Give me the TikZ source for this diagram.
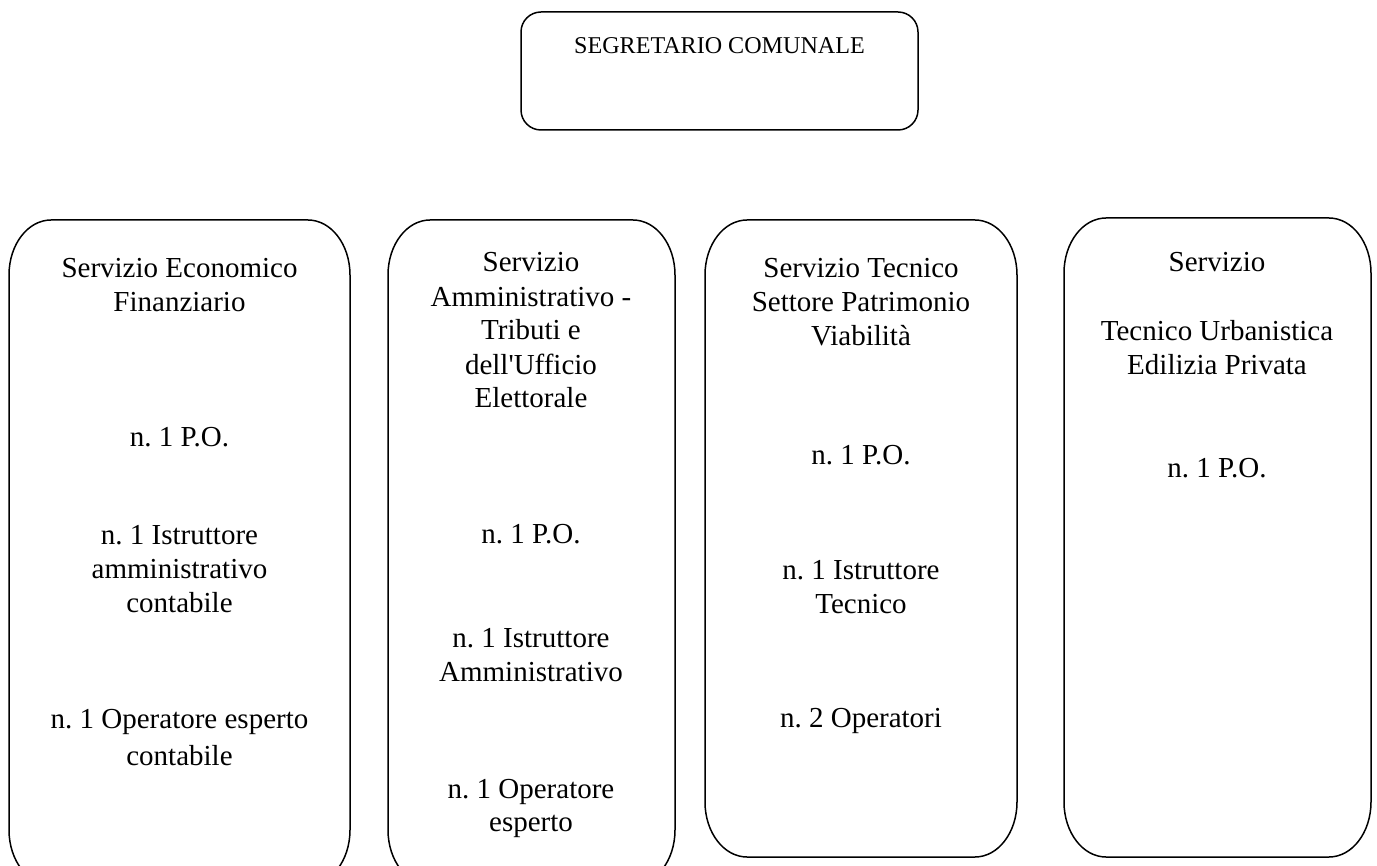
\documentclass[tikz,border=0pt]{standalone}
\usepackage{fontspec}
\setmainfont{Liberation Serif}[Ligatures=TeXOff]
\frenchspacing
\newcommand\rrbox[4]{%
  \draw[box] (#1+42,#2) -- (#3-42,#2)
    arc[start angle=-90,end angle=0,x radius=42,y radius=55] -- (#3,#4-55)
    arc[start angle=0,end angle=90,x radius=42,y radius=55] -- (#1+42,#4)
    arc[start angle=90,end angle=180,x radius=42,y radius=55] -- (#1,#2+55)
    arc[start angle=180,end angle=270,x radius=42,y radius=55] -- cycle;}
\begin{document}
\begin{tikzpicture}[x=1pt,y=-1pt,
  box/.style={draw,line width=1.5pt},
  topbox/.style={draw,line width=1.5pt,rounded corners=20pt},
  lbl/.style={font=\fontsize{29}{34}\selectfont,inner sep=0pt,anchor=center},
  toplbl/.style={font=\fontsize{24.1}{28}\selectfont,inner sep=0pt,anchor=center}]
\useasboundingbox (0,0) rectangle (1377,866);
\clip (0,0) rectangle (1377,866);
% boxes
\draw[topbox] (521,12) rectangle (918,130);
\node[toplbl] (seg) at (719.5,46) {SEGRETARIO COMUNALE};
\rrbox{9}{220}{350}{885}
\rrbox{388}{220}{675}{885}
\rrbox{705}{220}{1017}{857}
\rrbox{1064}{218}{1371}{857}
% box 1
\node[lbl] (a1) at (179.5,268) {Servizio Economico};
\node[lbl] (a2) at (179.5,302) {Finanziario};
\node[lbl] (a3) at (179.5,437) {n. 1 P.O.};
\node[lbl] (a4) at (179.5,535) {n. 1 Istruttore};
\node[lbl] (a5) at (179.5,569) {amministrativo};
\node[lbl] (a6) at (179.5,603) {contabile};
\node[lbl] (a7) at (179.5,722) {n. 1 Operatore esperto};
\node[lbl] (a8) at (179.5,756) {contabile};
% box 2
\node[lbl] (b1) at (531,262) {Servizio};
\node[lbl] (b2) at (531,297) {Amministrativo -};
\node[lbl] (b3) at (531,330) {Tributi e};
\node[lbl] (b4) at (531,364) {dell'Ufficio};
\node[lbl] (b5) at (531,398) {Elettorale};
\node[lbl] (b6) at (531,534) {n. 1 P.O.};
\node[lbl] (b7) at (531,638) {n. 1 Istruttore};
\node[lbl] (b8) at (531,672) {Amministrativo};
\node[lbl] (b9) at (531,792) {n. 1 Operatore};
\node[lbl] (b10) at (531,826) {esperto};
% box 3
\node[lbl] (c1) at (861,268) {Servizio Tecnico};
\node[lbl] (c2) at (861,302) {Settore Patrimonio};
\node[lbl] (c3) at (861,336) {Viabilità};
\node[lbl] (c4) at (861,455) {n. 1 P.O.};
\node[lbl] (c5) at (861,570) {n. 1 Istruttore};
\node[lbl] (c6) at (861,604) {Tecnico};
\node[lbl] (c7) at (861,721) {n. 2 Operatori};
% box 4
\node[lbl] (d1) at (1217,262) {Servizio};
\node[lbl] (d2) at (1217,331) {Tecnico Urbanistica};
\node[lbl] (d3) at (1217,365) {Edilizia Privata};
\node[lbl] (d4) at (1217,468) {n. 1 P.O.};
\end{tikzpicture}
\end{document}
